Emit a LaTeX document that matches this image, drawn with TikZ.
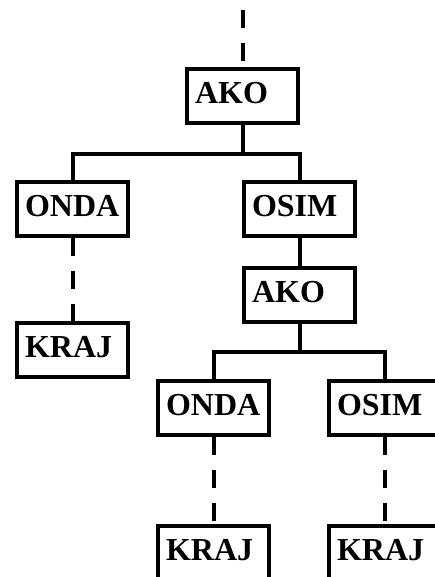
\documentclass[tikz,border=0pt]{standalone}
\usepackage{fontspec}
\setmainfont{Liberation Serif}
\usepackage{tikz}

\begin{document}
\begin{tikzpicture}[x=1pt,y=-1pt,
  box/.style={draw, line width=4pt, minimum height=54pt, text width=95pt, inner xsep=8pt,
    align=left, text height=21pt, text depth=6pt, font=\fontsize{32}{38}\selectfont\bfseries},
  veza/.style={line width=4pt},
  crta/.style={line width=4pt, dash pattern=on 18pt off 15pt}]
\useasboundingbox (0,0) rectangle (435,577);
\clip (0,0) rectangle (435,577);
\node [box] (a1) at (242.5,96) {AKO};
\node [box] (o1) at (72.5,209) {ONDA};
\node [box] (s1) at (299.5,209) {OSIM};
\node [box] (k1) at (72.5,350) {KRAJ};
\node [box] (a2) at (299.5,295) {AKO};
\node [box] (o2) at (213.5,408) {ONDA};
\node [box] (s2) at (384.5,408) {OSIM};
\node [box] (k2) at (213.5,553) {KRAJ};
\node [box] (k3) at (384.5,553) {KRAJ};
\coordinate (vrh) at (242.5,10);
\draw [crta] (vrh) -- (a1.north);
\draw [veza] (a1.south) -- ++(0,29) coordinate (t1);
\draw [veza] (o1.north) |- (t1) -| (s1.north);
\draw [veza] (s1) -- (a2);
\draw [veza] (a2.south) -- ++(0,28) coordinate (t2);
\draw [veza] (o2.north) |- (t2) -| (s2.north);
\draw [crta] (o1.south) -- (k1.north);
\draw [crta] (o2.south) -- (k2.north);
\draw [crta] (s2.south) -- (k3.north);
\end{tikzpicture}
\end{document}
